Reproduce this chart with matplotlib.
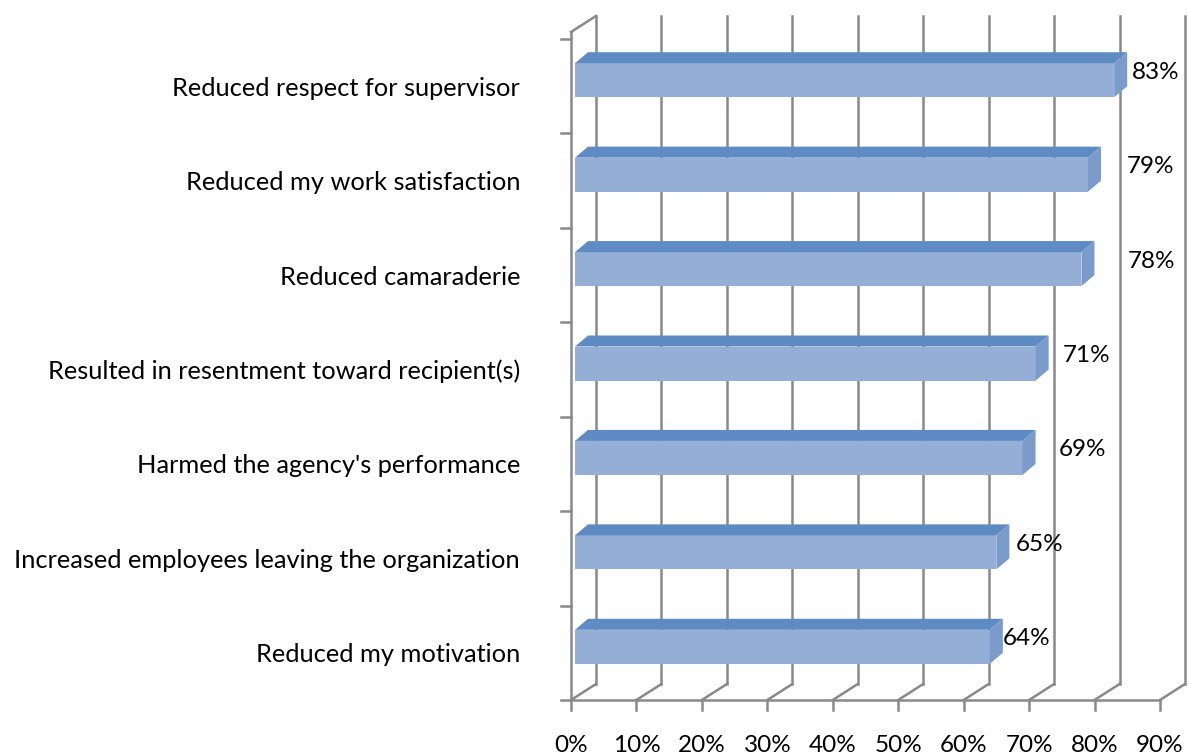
import matplotlib.pyplot as plt
from matplotlib.patches import Polygon

plt.rcParams['font.family'] = ['Lato', 'DejaVu Sans']

# datos del grafico (de arriba hacia abajo)
categorias = ['Reduced respect for supervisor',
              'Reduced my work satisfaction',
              'Reduced camaraderie',
              'Resulted in resentment toward recipient(s)',
              "Harmed the agency's performance",
              'Increased employees leaving the organization',
              'Reduced my motivation']
valores = [83, 79, 78, 71, 69, 65, 64]
etiquetas = ['83%', '79%', '78%', '71%', '69%', '65%', '64%']
ticks_x = [0, 10, 20, 30, 40, 50, 60, 70, 80, 90]

# desplazamiento de cada etiqueta (px) como en el original
etiqueta_dx = [18, 39, 46, 27, 36, 19, 13]

W, H = 1189, 756
fig = plt.figure(figsize=(W / 100, H / 100), dpi=100)
x0, x1, ytop, ybot = 571, 1160, 39, 700
ax = fig.add_axes([x0 / W, (H - ybot) / H, (x1 - x0) / W, (ybot - ytop) / H])
ax.set_xlim(0, 90)
ax.set_ylim(len(categorias) - 0.5, -0.5)
ax.axis('off')

# px -> unidades de datos
px = 90 / (x1 - x0)
py = len(categorias) / (ybot - ytop)

gris = '#898989'
lw = 1.8
fs = 17.5
pared_dx, pared_dy = 25 * px, -16 * py
y_fondo = len(categorias) - 0.5
y_techo = -0.5 - 7 * py

# pared del fondo y piso
for t in ticks_x:
    ax.plot([t + pared_dx, t + pared_dx], [y_fondo + pared_dy, y_techo + pared_dy],
            color=gris, lw=lw, clip_on=False, zorder=1)
    ax.plot([t, t + pared_dx], [y_fondo, y_fondo + pared_dy],
            color=gris, lw=lw, clip_on=False, zorder=1)
    ax.plot([t, t], [y_fondo, y_fondo + 10 * py], color=gris, lw=lw, clip_on=False)
    ax.text(t, y_fondo + 46 * py, f'{t}%', ha='center', va='center', fontsize=fs)

ax.plot([0, 90], [y_fondo, y_fondo], color=gris, lw=lw, clip_on=False)
ax.plot([0, 0], [y_fondo, y_techo], color=gris, lw=lw, clip_on=False, zorder=1)
ax.plot([0, pared_dx], [y_techo, y_techo + pared_dy], color=gris, lw=lw, clip_on=False)
for i in range(len(categorias) + 1):
    ax.plot([-10 * px, 0], [i - 0.5, i - 0.5], color=gris, lw=lw, clip_on=False)

# barras 3D
frente = '#94aed5'
arriba = '#5f8bc4'
lado = '#7b9bcb'
bdx, bdy = 13 * px, -11 * py
alto = 34 * py
for i, v in enumerate(valores):
    yc = i - 6 * py
    ya, yb = yc - alto / 2, yc + alto / 2
    xa = 4 * px
    ax.add_patch(Polygon([(xa, ya), (v, ya), (v, yb), (xa, yb)],
                         closed=True, fc=frente, ec='none', zorder=3))
    ax.add_patch(Polygon([(xa, ya), (v, ya), (v + bdx, ya + bdy), (xa + bdx, ya + bdy)],
                         closed=True, fc=arriba, ec='none', zorder=3))
    ax.add_patch(Polygon([(v, ya), (v + bdx, ya + bdy), (v + bdx, yb + bdy), (v, yb)],
                         closed=True, fc=lado, ec='none', zorder=3))
    ax.text(v + etiqueta_dx[i] * px, yc - 8 * py, etiquetas[i],
            ha='left', va='center', fontsize=fs, zorder=4)

# etiquetas de categorias
for i, c in enumerate(categorias):
    ax.text(-51 * px, i + 2 * py, c, ha='right', va='center', fontsize=18.3)

fig.savefig('out.png', dpi=100)
